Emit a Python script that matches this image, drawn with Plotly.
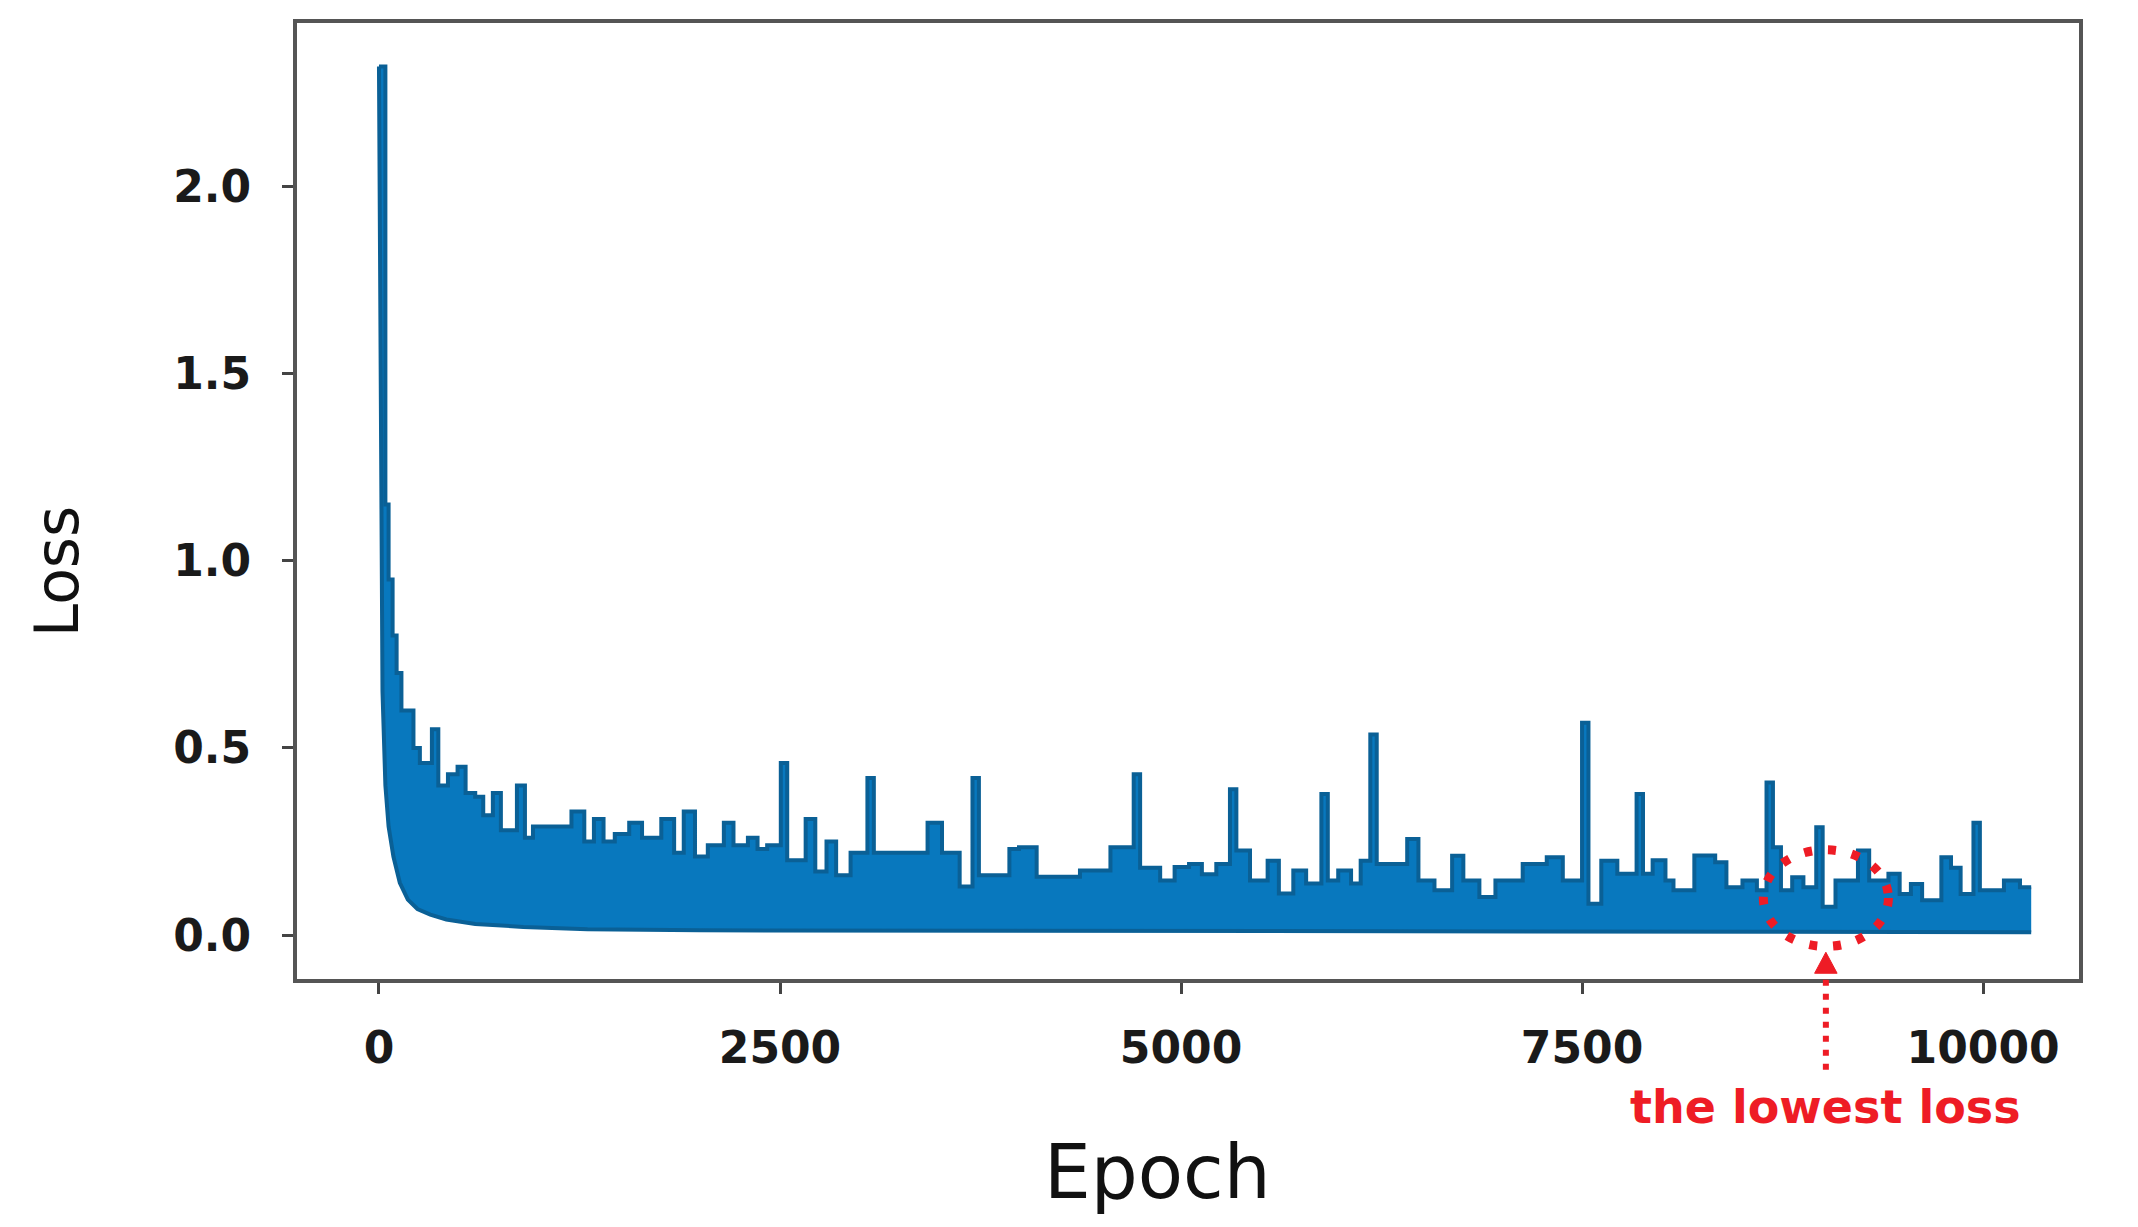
import plotly.graph_objects as go

# loss curve: upper edge (max loss per step) and lower edge (min loss)
upper_epoch = [0, 40, 60, 85, 110, 140, 215, 255, 330, 370, 430, 490, 540, 600, 650, 710, 760, 860, 910,
               960, 1200, 1280, 1340, 1400, 1470, 1560, 1640, 1760, 1840, 1900, 1970, 2050, 2150, 2210,
               2300, 2360, 2420, 2505, 2545, 2660, 2720, 2790, 2850, 2940, 3045, 3085, 3420, 3510, 3620,
               3700, 3740, 3930, 3990, 4100, 4370, 4560, 4705, 4745, 4870, 4960, 5050, 5130, 5220, 5305,
               5345, 5430, 5540, 5610, 5700, 5780, 5875, 5915, 5980, 6060, 6120, 6180, 6220, 6410, 6480,
               6580, 6690, 6760, 6860, 6960, 7130, 7280, 7380, 7500, 7540, 7620, 7720, 7840, 7880, 7940,
               8020, 8070, 8200, 8330, 8400, 8500, 8590, 8650, 8690, 8740, 8810, 8880, 8960, 9000, 9080,
               9220, 9290, 9410, 9480, 9550, 9620, 9740, 9800, 9860, 9940, 9980, 10130, 10230, 10300]
upper_loss = [2.32, 1.15, 0.95, 0.80, 0.70, 0.60, 0.50, 0.46, 0.55, 0.40, 0.43, 0.45, 0.38, 0.37, 0.32, 0.38,
              0.28, 0.40, 0.26, 0.29, 0.33, 0.25, 0.31, 0.25, 0.27, 0.30, 0.26, 0.31, 0.22, 0.33, 0.21,
              0.24, 0.30, 0.24, 0.26, 0.23, 0.24, 0.46, 0.20, 0.31, 0.17, 0.25, 0.16, 0.22, 0.42, 0.22,
              0.30, 0.22, 0.13, 0.42, 0.16, 0.23, 0.235, 0.156, 0.173, 0.235, 0.43, 0.18, 0.146, 0.182,
              0.19, 0.163, 0.19, 0.39, 0.226, 0.146, 0.199, 0.111, 0.173, 0.138, 0.377, 0.146, 0.173,
              0.138, 0.199, 0.536, 0.19, 0.257, 0.146, 0.12, 0.212, 0.146, 0.102, 0.146, 0.19, 0.208,
              0.146, 0.567, 0.084, 0.199, 0.164, 0.377, 0.164, 0.20, 0.146, 0.12, 0.213, 0.195, 0.128,
              0.146, 0.12, 0.408, 0.235, 0.12, 0.155, 0.128, 0.288, 0.076, 0.146, 0.226, 0.146, 0.164,
              0.11, 0.137, 0.093, 0.208, 0.18, 0.11, 0.30, 0.12, 0.146, 0.128, 0.128]
lower_epoch = [0, 10, 22, 40, 60, 90, 130, 180, 240, 320, 420, 600, 900, 1300, 2000, 10300]
lower_loss = [2.32, 1.4, 0.65, 0.40, 0.29, 0.21, 0.14, 0.095, 0.07, 0.055, 0.042, 0.03, 0.022, 0.016, 0.013, 0.008]

x_ticks = [0, 2500, 5000, 7500, 10000]
x_tick_labels = ['0', '2500', '5000', '7500', '10000']
y_ticks = [0.0, 0.5, 1.0, 1.5, 2.0]

# lowest loss marker
best_epoch = 9020

blue = 'rgb(8,120,190)'
edge = 'rgb(10,96,150)'
red = '#ee1c25'

fig = go.Figure()
fig.add_trace(go.Scatter(x=lower_epoch, y=lower_loss, mode='lines',
                         line=dict(color=edge, width=4), showlegend=False, hoverinfo='skip'))
fig.add_trace(go.Scatter(x=upper_epoch, y=upper_loss, mode='lines', line_shape='hv',
                         line=dict(color=edge, width=4), fill='tonexty', fillcolor=blue,
                         showlegend=False))

tick_font = dict(family='DejaVu Sans', size=44, color='#1a1a1a', weight='bold')
fig.update_xaxes(range=[-511, 10598], tickvals=x_ticks, ticktext=x_tick_labels, ticks='outside', ticklen=11,
                 tickwidth=3, tickcolor='#444', showline=True, linecolor='#555', linewidth=4, mirror=True,
                 showgrid=False, zeroline=False, tickfont=tick_font, ticklabelstandoff=16)
fig.update_yaxes(range=[-0.117, 2.436], tickvals=y_ticks, tickformat='.1f', ticks='outside', ticklen=11,
                 tickwidth=3, tickcolor='#444', showline=True, linecolor='#555', linewidth=4, mirror=True,
                 showgrid=False, zeroline=False, tickfont=tick_font, ticklabelstandoff=22)

# dotted circle around the lowest loss + dotted arrow + label
fig.add_shape(type='circle', xref='x', yref='y', x0=best_epoch - 390, x1=best_epoch + 390, y0=-0.03, y1=0.228,
              line=dict(color=red, width=9, dash='8px,16px'))
fig.add_shape(type='line', xref='x', yref='paper', x0=best_epoch, x1=best_epoch, y0=-0.095, y1=0.01,
              line=dict(color=red, width=6, dash='6px,8px'))
fig.add_shape(type='path', xref='x', yref='paper',
              path=f'M {best_epoch - 70},0.006 L {best_epoch + 70},0.006 L {best_epoch},0.028 Z',
              fillcolor=red, line=dict(color=red, width=1))
fig.add_annotation(x=best_epoch, y=-0.134, xref='x', yref='paper', text='the lowest loss', showarrow=False,
                   xanchor='center', yanchor='middle',
                   font=dict(family='DejaVu Sans', size=46, color=red, weight='bold'))

# axis titles
fig.add_annotation(x=0.483, y=-0.202, xref='paper', yref='paper', text='Epoch', showarrow=False,
                   xanchor='center', yanchor='middle',
                   font=dict(family='DejaVu Sans', size=74, color='#111'))
fig.add_annotation(x=-0.135, y=0.427, xref='paper', yref='paper', text='Loss', showarrow=False, textangle=-90,
                   xanchor='center', yanchor='middle',
                   font=dict(family='DejaVu Sans', size=60, color='#111'))

# the page body adds an 8px margin, so the figure is a bit smaller than the window
fig.update_layout(width=2122, height=1211, margin=dict(l=289, r=51, t=11, b=240),
                  plot_bgcolor='white', paper_bgcolor='white')

fig.write_html("out.html")
